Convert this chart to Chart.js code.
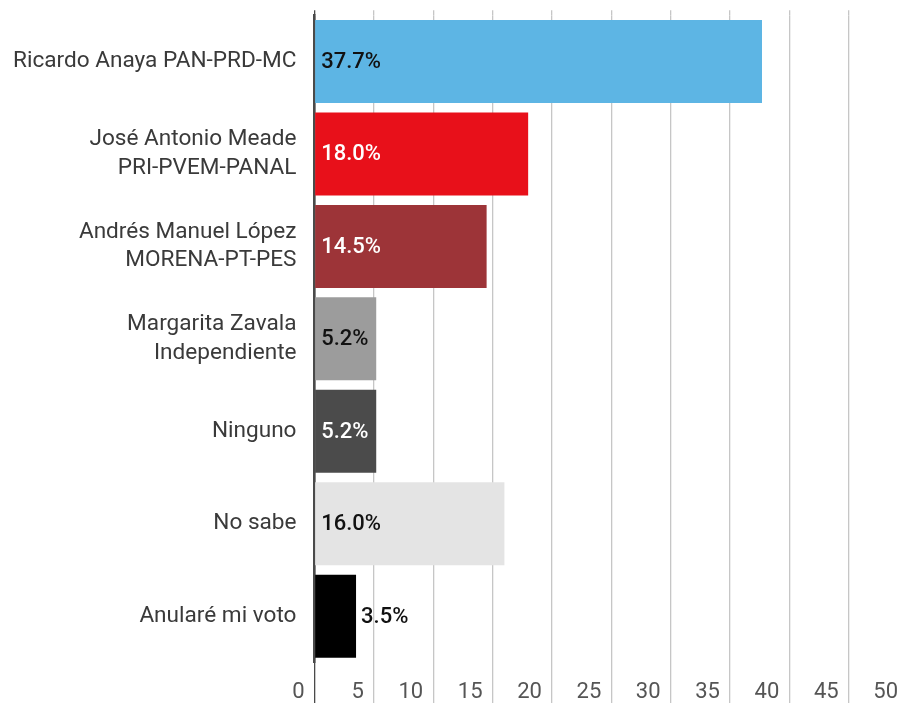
<!DOCTYPE html>
<html>
<head>
<meta charset="utf-8">
<script src="https://cdn.jsdelivr.net/npm/chart.js@4/dist/chart.umd.min.js"></script>
<style>
  html, body { margin: 0; padding: 0; background: #fff; overflow: hidden; }
  #wrap { width: 930px; height: 703px; position: relative; }
</style>
</head>
<body>
<div id="wrap"><canvas id="chart" width="930" height="703"></canvas></div>
<script>
// Chart data
const candidates = [
  ['Ricardo Anaya PAN-PRD-MC'],
  ['José Antonio Meade', 'PRI-PVEM-PANAL'],
  ['Andrés Manuel López', 'MORENA-PT-PES'],
  ['Margarita Zavala', 'Independiente'],
  ['Ninguno'],
  ['No sabe'],
  ['Anularé mi voto']
];
const votePercent = [37.7, 18.0, 14.5, 5.2, 5.2, 16.0, 3.5];
const barColors = ['#5db5e4', '#e8101a', '#9d3438', '#9c9c9c', '#4b4b4b', '#e4e4e4', '#000000'];
const valueTextColors = ['#111', '#fff', '#fff', '#111', '#fff', '#111', '#111'];
const axisMin = 0;
const axisMax = 50;
const axisStep = 5;

const FONT = 'Roboto';
const GRID = '#c6c6c6';
const AXIS = '#4a4a4a';

/**
 * Writes the percentage inside each bar, or just after it when the bar is too short
 */
const valueLabels = {
  id: 'valueLabels',
  afterDatasetsDraw(chart) {
    const { ctx } = chart;
    const meta = chart.getDatasetMeta(0);
    ctx.save();
    ctx.font = '500 22px ' + FONT;
    ctx.textAlign = 'left';
    ctx.textBaseline = 'middle';
    meta.data.forEach((bar, i) => {
      const text = votePercent[i].toFixed(1) + '%';
      const fits = ctx.measureText(text).width + 10 < bar.x - bar.base;
      ctx.fillStyle = fits ? valueTextColors[i] : '#111';
      ctx.fillText(text, fits ? bar.base + 6 : bar.x + 5, bar.y + 1);
    });
    ctx.restore();
  }
};

new Chart(document.getElementById('chart'), {
  type: 'bar',
  data: {
    labels: candidates,
    datasets: [{
      data: votePercent,
      backgroundColor: barColors,
      borderWidth: 0,
      barPercentage: 0.898,
      categoryPercentage: 1
    }]
  },
  options: {
    indexAxis: 'y',
    responsive: false,
    animation: false,
    layout: { padding: { left: 0, top: 11, right: 22, bottom: 0 } },
    plugins: {
      legend: { display: false },
      tooltip: { enabled: false }
    },
    scales: {
      x: {
        position: 'bottom',
        min: axisMin,
        max: axisMax,
        afterFit(scale) { scale.height = 40.6; scale.paddingLeft = 0; scale.paddingRight = 0; },
        ticks: {
          stepSize: axisStep,
          align: 'end',
          labelOffset: -10,
          padding: -24,
          color: '#555',
          font: { family: FONT, size: 22 }
        },
        grid: {
          color: (c) => (c.tick && c.tick.value === 0 ? AXIS : GRID),
          lineWidth: 1.3,
          tickLength: 41,
          drawTicks: true
        },
        border: { display: false }
      },
      xTop: {
        position: 'top',
        min: axisMin,
        max: axisMax,
        afterFit(scale) { scale.height = 4.3; scale.paddingLeft = 0; scale.paddingRight = 0; },
        ticks: { stepSize: axisStep, display: false },
        grid: {
          color: (c) => (c.tick && c.tick.value === 0 ? AXIS : GRID),
          lineWidth: 1.3,
          tickLength: 5,
          drawOnChartArea: false
        },
        border: { display: false }
      },
      y: {
        z: 1,
        afterFit(scale) { scale.width = 314.5; scale.paddingTop = 0; scale.paddingBottom = 0; },
        ticks: {
          padding: 18,
          color: '#3a3a3a',
          font: { family: FONT, size: 22.6, lineHeight: 1.25 }
        },
        grid: { display: false, drawTicks: false },
        border: { display: true, color: AXIS, width: 2.5 }
      }
    }
  },
  plugins: [valueLabels]
});
</script>
</body>
</html>
